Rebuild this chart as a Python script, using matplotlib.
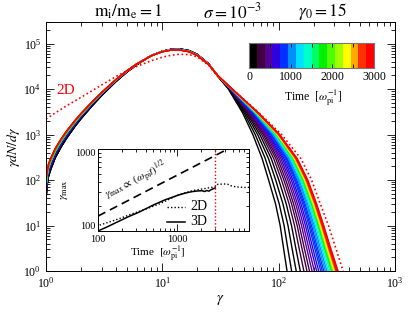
import numpy as np
import matplotlib
matplotlib.use("Agg")
import matplotlib.pyplot as plt
from matplotlib.colors import ListedColormap, BoundaryNorm
import matplotlib.colorbar as mcolorbar
from matplotlib.ticker import LogLocator, NullFormatter, FixedLocator

plt.rcParams['font.family'] = ['Liberation Serif', 'DejaVu Serif']
plt.rcParams['mathtext.fontset'] = 'stix'

# ---------------- data ----------------
# output times of the 3D spectra (colour = time)
times = [30, 70, 110, 150, 200, 280, 350, 420, 500, 600, 700, 780, 860, 920,
         980, 1080, 1200, 1400, 1600, 1780, 1950, 2150, 2350, 2530, 2720,
         2850, 2930, 3000]
# which low-energy body each spectrum follows (0 black .. 3 red)
body_of_curve = [0, 0, 0, 0, 1, 1, 1, 1, 1, 1, 1, 2, 2, 2, 2, 2, 2, 2, 2, 2,
                 3, 3, 3, 3, 3, 3, 3, 3]

body_gamma = [1.0, 1.02, 1.05, 1.1, 1.2, 1.35, 1.5, 1.75, 2.0, 2.5, 3.0, 4.0,
              5.0, 6.0, 8.0, 10, 12, 14, 17, 20, 25, 30]
body_black = [36, 75, 120, 175, 310, 540, 830, 1450, 2250, 4350, 7200, 14800,
              24200, 34300, 54000, 68000, 75500, 77000, 70500, 58000, 36000, 19300]
body_purple = [50, 95, 150, 215, 370, 630, 950, 1620, 2480, 4700, 7700, 15500,
               25000, 35000, 54500, 68000, 75000, 76000, 69500, 57000, 35600, 19500]
body_blue = [70, 120, 185, 260, 430, 720, 1070, 1800, 2700, 5050, 8100, 16000,
             25500, 35500, 54500, 67500, 74000, 74500, 68000, 56000, 35300, 19600]
body_red = [100, 150, 220, 300, 490, 800, 1180, 1950, 2900, 5300, 8400, 16300,
            25700, 35500, 54000, 66500, 72500, 73000, 66500, 55000, 35000, 19800]
bodies = [body_black, body_purple, body_blue, body_red]

# high-energy tails: gamma at which each spectrum crosses a given level
tail_levels = [1e4, 3e3, 1e3, 3e2, 1e2, 3e1, 1e1, 3, 1, 0.4]
g_at_1e4 = [37.0, 37.3, 37.5, 37.8, 38.0, 38.1, 38.3, 38.4, 38.6, 38.7, 38.8,
            39.0, 39.0, 39.1, 39.2, 39.3, 39.4, 39.5, 39.6, 39.6, 39.7, 39.7,
            39.8, 39.8, 39.9, 39.9, 40.0, 40.0]
g_at_3e3 = [49.0, 50.4, 51.8, 53.2, 54.3, 55.4, 56.2, 57.1, 57.9, 58.8, 59.5,
            60.2, 60.8, 61.4, 62.0, 62.5, 63.1, 63.7, 64.2, 64.6, 64.9, 65.2,
            65.6, 65.9, 66.2, 66.5, 66.8, 67.0]
g_at_1e3 = [60.0, 62.9, 66.0, 68.9, 71.5, 73.8, 75.8, 77.8, 79.7, 81.6, 83.4,
            85.2, 86.5, 87.9, 89.3, 90.8, 92.2, 93.7, 94.9, 96.0, 96.7, 97.5,
            98.3, 99.1, 99.8, 100.6, 101.3, 102.0]
g_at_3e2 = [72.0, 76.6, 81.6, 86.2, 90.5, 94.3, 97.7, 101.1, 104.3, 107.6,
            110.7, 113.8, 116.2, 118.6, 121.1, 123.6, 126.2, 128.9, 131.1,
            133.0, 134.4, 135.8, 137.2, 138.6, 140.1, 141.5, 142.8, 144.0]
g_at_1e2 = [82.0, 87.9, 94.3, 100.3, 105.9, 110.9, 115.3, 119.9, 124.1, 128.5,
            132.6, 136.8, 140.0, 143.3, 146.6, 150.1, 153.6, 157.2, 160.3,
            162.8, 164.7, 166.7, 168.6, 170.6, 172.6, 174.6, 176.4, 178.0]
g_at_3e1 = [94.0, 101.1, 108.8, 116.1, 122.9, 129.1, 134.4, 140.0, 145.2,
            150.7, 155.6, 160.8, 164.8, 168.8, 173.0, 177.3, 181.6, 186.1,
            190.0, 193.1, 195.4, 197.8, 200.3, 202.7, 205.2, 207.7, 209.9, 212.0]
g_at_1e1 = [103.0, 111.3, 120.3, 128.9, 136.9, 144.2, 150.5, 157.2, 163.4,
            169.8, 175.8, 182.0, 186.7, 191.6, 196.7, 201.8, 207.1, 212.5,
            217.2, 220.9, 223.8, 226.7, 229.7, 232.7, 235.7, 238.8, 241.5, 244.0]
g_at_3e0 = [110.5, 120.2, 130.8, 141.0, 150.5, 159.2, 166.9, 174.9, 182.4,
            190.3, 197.5, 205.1, 210.9, 216.9, 223.1, 229.5, 236.0, 242.7,
            248.5, 253.2, 256.8, 260.4, 264.1, 267.9, 271.6, 275.5, 278.9, 282.0]
g_at_1e0 = [118.0, 129.2, 141.5, 153.4, 164.7, 175.0, 184.0, 193.6, 202.6,
            212.0, 220.7, 229.8, 236.9, 244.2, 251.7, 259.5, 267.4, 275.7,
            282.7, 288.5, 292.9, 297.4, 301.9, 306.5, 311.2, 316.0, 320.1, 324.0]
g_at_4em1 = [124.5, 137.0, 150.6, 164.0, 176.6, 188.2, 198.4, 209.2, 219.4,
             230.1, 240.1, 250.4, 258.5, 266.9, 275.5, 284.4, 293.6, 303.0,
             311.2, 317.8, 322.9, 328.1, 333.3, 338.7, 344.1, 349.6, 354.5, 359.0]
tail_cross = [g_at_1e4, g_at_3e3, g_at_1e3, g_at_3e2, g_at_1e2, g_at_3e1,
              g_at_1e1, g_at_3e0, g_at_1e0, g_at_4em1]

# 2D spectrum at t = 3000
d2_gamma = [1.0, 1.2, 1.5, 2, 3, 4, 5, 6, 8, 10, 12, 14, 17, 20, 25, 30, 40,
            68, 106, 155, 192, 228, 268, 312, 358, 395]
d2_vals = [2200, 3000, 4300, 6600, 12300, 19000, 25500, 31500, 42000, 50500,
           56000, 58500, 57500, 51000, 33500, 19000, 1e4, 3e3, 1e3, 3e2, 1e2,
           3e1, 1e1, 3, 1, 0.4]

# inset: gamma_max versus time
t3d = [100, 130, 170, 240, 330, 500, 700, 1040, 1300, 1530, 1800, 2050, 2200,
       2350, 2500, 2650, 2880, 3000]
g3d = [100, 112, 127, 149, 170, 208, 240, 275, 292, 302, 308, 310, 303, 312,
       306, 318, 330, 334]
t2d = [105, 150, 200, 250, 300, 400, 600, 800, 1000, 1300, 1600, 2000, 2400,
       2700, 3000, 3200, 3500, 3800, 4300, 4800, 5400, 6200, 7000, 8000]
g2d = [118, 132, 145, 158, 168, 185, 215, 245, 272, 296, 312, 324, 334, 340,
       346, 370, 372, 375, 372, 355, 346, 342, 340, 340]
t_dash = [100, 4330]
g_dash = [152, 1000]
t_end = 3000

band_colors = ['#000000', '#400040', '#540094', '#3000e0', '#0030ff', '#0090ff',
               '#00e0ff', '#00ffc8', '#00ff64', '#00f000', '#50ff00', '#a0ff00',
               '#ffff00', '#ffa800', '#ff3000', '#ff0000']
cmap = ListedColormap(band_colors)
norm = BoundaryNorm(np.linspace(0, 3000, 17), 16)

# ---------------- figure ----------------
fig = plt.figure(figsize=(4.15, 3.12), dpi=100)
ax = fig.add_axes([46/415, 41/312, 349/415, 249/312])

for i, t in enumerate(times):
    x = list(body_gamma) + [arr[i] for arr in tail_cross]
    y = list(bodies[body_of_curve[i]]) + list(tail_levels)
    ax.plot(x, y, color=cmap(norm(t)), lw=1.0, solid_capstyle='butt')

ax.plot(d2_gamma, d2_vals, color='red', lw=1.2, linestyle=(0, (1, 1.6)))

ax.set_xscale('log')
ax.set_yscale('log')
ax.set_xlim(1, 1000)
ax.set_ylim(1, 3e5)
ax.tick_params(which='both', direction='in', top=True, right=True,
               labelsize=8.5, width=0.6)
ax.tick_params(which='major', length=6)
ax.tick_params(which='minor', length=3)
ax.xaxis.set_minor_locator(LogLocator(subs=np.arange(2, 10)))
ax.yaxis.set_minor_locator(LogLocator(subs=np.arange(2, 10)))
ax.xaxis.set_minor_formatter(NullFormatter())
ax.yaxis.set_minor_formatter(NullFormatter())
for s in ax.spines.values():
    s.set_linewidth(0.7)
ax.set_xlabel(r'$\gamma$', fontsize=10.5, labelpad=2)
ax.set_ylabel(r'$\gamma dN/d\gamma$', fontsize=10, labelpad=1)

fig.text(66/415, 1-90/312, '2D', color='red', fontsize=11, ha='center',
         va='center')

fig.text(128/415, 1-12/312, r'$\mathrm{m_i/m_e=1}$', ha='center',
         va='center', fontsize=12.5)
fig.text(232/415, 1-12/312, r'$\sigma=10^{-3}$', ha='center',
         va='center', fontsize=12.5)
fig.text(323/415, 1-12/312, r'$\gamma_0=15$', ha='center', va='center',
         fontsize=12.5)

# colorbar
cax = fig.add_axes([249/415, 1-68/312, 125/415, 25/312])
cb = mcolorbar.ColorbarBase(cax, cmap=cmap, norm=norm, orientation='horizontal',
                            ticks=[0, 1000, 2000, 3000])
cb.outline.set_edgecolor('#777777')
cb.outline.set_linewidth(0.8)
cax.tick_params(labelsize=8.5, direction='in', length=3, top=True, bottom=True,
                width=0.6, pad=2)
cax.xaxis.set_minor_locator(FixedLocator([500, 1500, 2500]))
cax.tick_params(which='minor', direction='in', length=3, top=True, bottom=True)
fig.text(313/415, 1-97/312, r'Time  $[\omega_{\rm pi}^{-1}]$', ha='center',
         va='center', fontsize=8.5)

# inset
ai = fig.add_axes([98/415, 1-231/312, 151/415, 82/312])
ai.plot(t_dash, g_dash, color='black', lw=1.2, dashes=(5, 3))
ai.plot(t2d, g2d, color='black', lw=1.0, linestyle=(0, (1, 1.5)))
ai.plot(t3d, g3d, color='black', lw=1.1)
ai.axvline(t_end, color='red', lw=1.0, linestyle=(0, (1, 1.5)))
ai.set_xscale('log')
ai.set_yscale('log')
ai.set_xlim(100, 8000)
ai.set_ylim(100, 1000)
ai.set_xticks([100, 1000])
ai.set_xticklabels(['100', '1000'])
ai.set_yticks([100, 1000])
ylabs = ai.set_yticklabels(['100', '1000'])
ylabs[0].set_va('bottom')
ylabs[1].set_va('top')
ai.xaxis.set_minor_formatter(NullFormatter())
ai.yaxis.set_minor_formatter(NullFormatter())
ai.tick_params(which='both', direction='in', top=True, right=True,
               labelsize=7.5, width=0.6, pad=1.5)
ai.tick_params(axis='x', pad=3)
ai.tick_params(which='major', length=5)
ai.tick_params(which='minor', length=2.5)
for s in ai.spines.values():
    s.set_linewidth(0.7)
fig.text(64/415, 1-190/312, r'$\gamma_{\rm max}$', rotation=90, ha='center',
         va='center', fontsize=8.5)
fig.text(158/415, 1-254/312, r'Time  $[\omega_{\rm pi}^{-1}]$', ha='center',
         va='center', fontsize=8)
fig.text(136/415, 1-180/312, r'$\gamma_{\rm max}\propto\ (\omega_{\rm pi}t)^{1/2}$',
         rotation=27, ha='center', va='center', fontsize=8)
ai.plot([0.457, 0.576], [0.293, 0.293], transform=ai.transAxes, color='black',
        lw=1.0, linestyle=(0, (1, 1.5)))
ai.plot([0.457, 0.576], [0.11, 0.11], transform=ai.transAxes, color='black',
        lw=1.1)
ai.text(0.61, 0.293, '2D', transform=ai.transAxes, fontsize=10, va='center')
ai.text(0.61, 0.11, '3D', transform=ai.transAxes, fontsize=10, va='center')

fig.savefig('out.png', dpi=100)
